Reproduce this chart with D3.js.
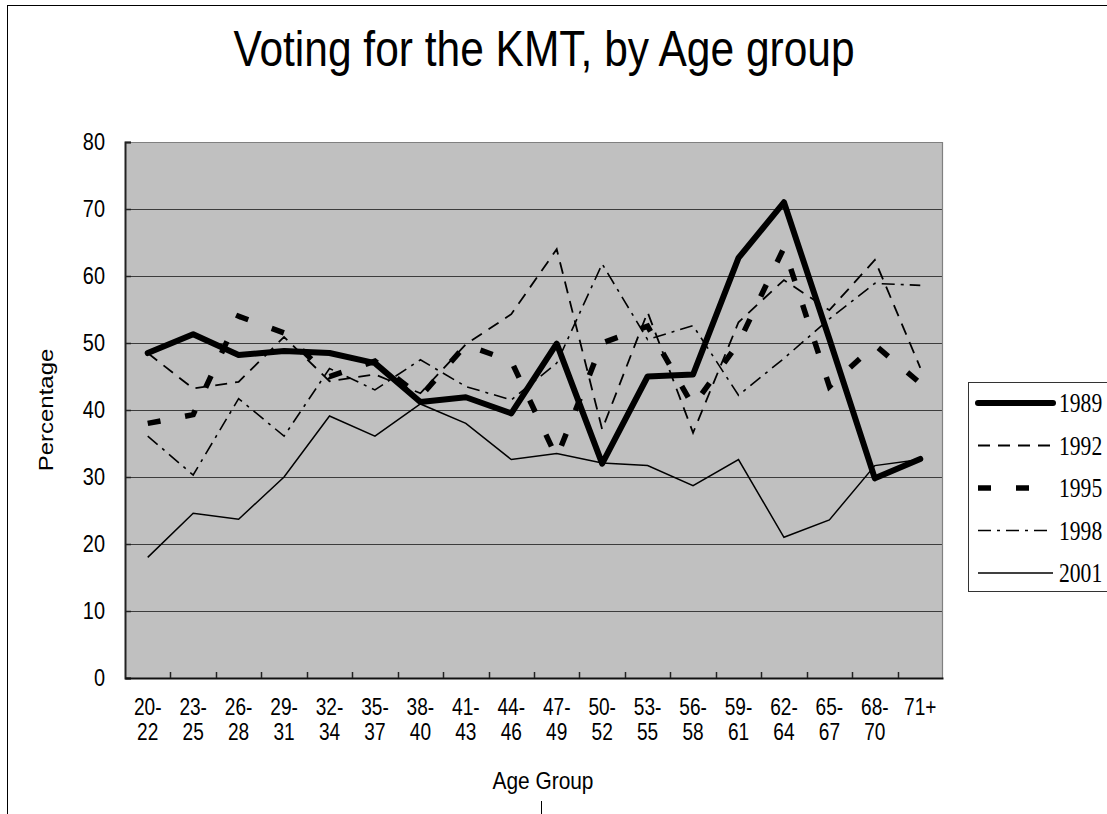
<!DOCTYPE html>
<html>
<head>
<meta charset="utf-8">
<script src="https://cdn.jsdelivr.net/npm/d3@7"></script>
<style>
  html, body { margin: 0; padding: 0; background: #fff; }
  svg { display: block; }
  text { font-family: "Liberation Sans", Arial, sans-serif; fill: #000; }
</style>
</head>
<body>
<svg id="chart" width="1107" height="814"></svg>
<script>
// ---------------- data ----------------
const categories = ["20-22","23-25","26-28","29-31","32-34","35-37","38-40","41-43","44-46",
                    "47-49","50-52","53-55","56-58","59-61","62-64","65-67","68-70","71+"];
const years = ["1989","1992","1995","1998","2001"];
const v1989 = [48.5,51.3,48.2,48.8,48.5,47.0,41.2,41.9,39.5,49.9,32.0,45.0,45.3,62.7,71.0,50.6,29.8,32.7];
const v1992 = [48.5,43.2,44.2,50.9,44.3,45.3,42.5,49.8,54.3,64.0,37.1,54.6,36.6,53.1,59.4,54.9,62.4,46.3];
const v1995 = [38.0,39.3,54.0,51.5,45.0,47.3,42.0,49.7,47.3,32.9,50.0,52.5,40.6,50.0,64.2,43.5,49.7,44.0];
const v1998 = [36.1,30.3,41.7,36.1,46.2,43.0,47.5,43.5,41.5,47.0,61.8,50.5,52.6,42.2,47.7,53.6,58.9,58.6];
const v2001 = [18.0,24.6,23.7,30.0,39.1,36.1,40.9,38.0,32.6,33.5,32.1,31.7,28.7,32.6,21.0,23.6,31.7,32.6];
const yTicks = [0,10,20,30,40,50,60,70,80];
const titleText = "Voting for the KMT, by Age group";
const xTitle = "Age Group";
const yTitle = "Percentage";

// ---------------- styles ----------------
const seriesValues = [v1989, v1992, v1995, v1998, v2001];
const styles = [
  { width: 6,   dash: null,        cap: "round" },
  { width: 1.8, dash: "12,8",      cap: "butt" },
  { width: 5.5, dash: "13,25",     cap: "butt" },
  { width: 1.6, dash: "13,6,3,6",  cap: "butt" },
  { width: 1.5, dash: null,        cap: "butt" }
];
const SX = 0.83; // horizontal glyph compression seen in reference

const svg = d3.select("#chart");
const plot = { left: 125, right: 943, top: 142, bottom: 678 };

// outer chart frame
svg.append("rect").attr("x", 7.5).attr("y", 5.5).attr("width", 1300).attr("height", 1300)
  .attr("fill", "#fff").attr("stroke", "#000").attr("stroke-width", 1);
svg.append("line").attr("x1", 541.5).attr("x2", 541.5).attr("y1", 801).attr("y2", 814)
  .attr("stroke", "#000").attr("stroke-width", 1);

const x = d3.scaleBand().domain(categories).range([plot.left, plot.right]).padding(0);
const y = d3.scaleLinear().domain([0, 80]).range([plot.bottom, plot.top]);
const cx = c => x(c) + x.bandwidth() / 2;

// plot area
svg.append("rect").attr("x", plot.left).attr("y", plot.top)
  .attr("width", plot.right - plot.left).attr("height", plot.bottom - plot.top)
  .attr("fill", "#c0c0c0");

// gridlines
svg.append("g").selectAll("line").data(yTicks.filter(t => t > 0 && t < 80)).join("line")
  .attr("x1", plot.left).attr("x2", plot.right)
  .attr("y1", d => Math.round(y(d)) + 0.5).attr("y2", d => Math.round(y(d)) + 0.5)
  .attr("stroke", "#3c3c3c").attr("stroke-width", 1);

// top and right border
svg.append("path")
  .attr("d", `M${plot.left},${plot.top + 0.5}H${plot.right - 0.5}V${plot.bottom}`)
  .attr("fill", "none").attr("stroke", "#808080").attr("stroke-width", 1.2);

// y axis
const yAxis = svg.append("g").attr("transform", `translate(${plot.left},0)`)
  .call(d3.axisLeft(y).tickValues(yTicks).tickSize(-6).tickPadding(20));
yAxis.select(".domain").attr("stroke", "#222").attr("stroke-width", 2);
yAxis.selectAll(".tick line").attr("stroke", "#222").attr("stroke-width", 1.5);
yAxis.selectAll(".tick text")
  .style("font-size", "24px").style("font-family", "'Liberation Sans', Arial, sans-serif")
  .attr("fill", "#000")
  .attr("x", -20 / SX)
  .attr("transform", `scale(${SX},1)`);

// x axis (labels at centres, ticks between categories)
const xAxis = svg.append("g").attr("transform", `translate(0,${plot.bottom})`)
  .call(d3.axisBottom(x).tickSize(0).tickFormat(""));
xAxis.select(".domain").attr("stroke", "#111").attr("stroke-width", 2);
svg.append("g").selectAll("line").data(categories.slice(1)).join("line")
  .attr("x1", d => Math.round(x(d)) + 0.5).attr("x2", d => Math.round(x(d)) + 0.5)
  .attr("y1", plot.bottom).attr("y2", plot.bottom - 6)
  .attr("stroke", "#222").attr("stroke-width", 1.5);

const xl = svg.append("g").selectAll("text").data(categories).join("text")
  .attr("transform", d => `translate(${cx(d)},0) scale(${SX},1)`)
  .attr("text-anchor", "middle").style("font-size", "23px");
xl.each(function(d) {
  const t = d3.select(this);
  const parts = d.includes("-") ? [d.split("-")[0] + "-", d.split("-")[1]] : [d];
  parts.forEach((p, i) => t.append("tspan").attr("x", 0).attr("y", 715 + i * 25).text(p));
});

// series lines
const line = d3.line().x((d, i) => cx(categories[i])).y(d => y(d));
seriesValues.forEach((vals, k) => {
  const s = styles[k];
  svg.append("path").datum(vals)
    .attr("d", line)
    .attr("fill", "none").attr("stroke", "#000")
    .attr("stroke-width", s.width)
    .attr("stroke-dasharray", s.dash)
    .attr("stroke-linecap", s.cap)
    .attr("stroke-linejoin", k === 0 ? "round" : "miter");
});

// titles
svg.append("text")
  .attr("transform", `translate(544,66) scale(0.85,1)`)
  .attr("text-anchor", "middle").style("font-size", "50px").text(titleText);
svg.append("text")
  .attr("transform", `translate(543,789) scale(0.87,1)`)
  .attr("text-anchor", "middle").style("font-size", "24px").text(xTitle);
svg.append("text")
  .attr("transform", `translate(53,410) scale(${SX},1) rotate(-90)`)
  .attr("text-anchor", "middle").style("font-size", "24px").text(yTitle);

// legend
const lg = svg.append("g");
lg.append("rect").attr("x", 968.5).attr("y", 382.5).attr("width", 300).attr("height", 209)
  .attr("fill", "#fff").attr("stroke", "#333").attr("stroke-width", 1);
const legendY = d3.scalePoint().domain(years).range([403, 573]);
years.forEach((yr, k) => {
  const s = styles[k];
  lg.append("line").attr("x1", 978).attr("x2", 1053)
    .attr("y1", legendY(yr)).attr("y2", legendY(yr))
    .attr("stroke", "#000").attr("stroke-width", s.width)
    .attr("stroke-dasharray", s.dash).attr("stroke-linecap", s.cap);
  lg.append("text")
    .attr("transform", `translate(1059,${legendY(yr) + 9}) scale(0.8,1)`)
    .style("font-family", "'Liberation Serif', 'Times New Roman', serif")
    .style("font-size", "27px").text(yr);
});
</script>
</body>
</html>
